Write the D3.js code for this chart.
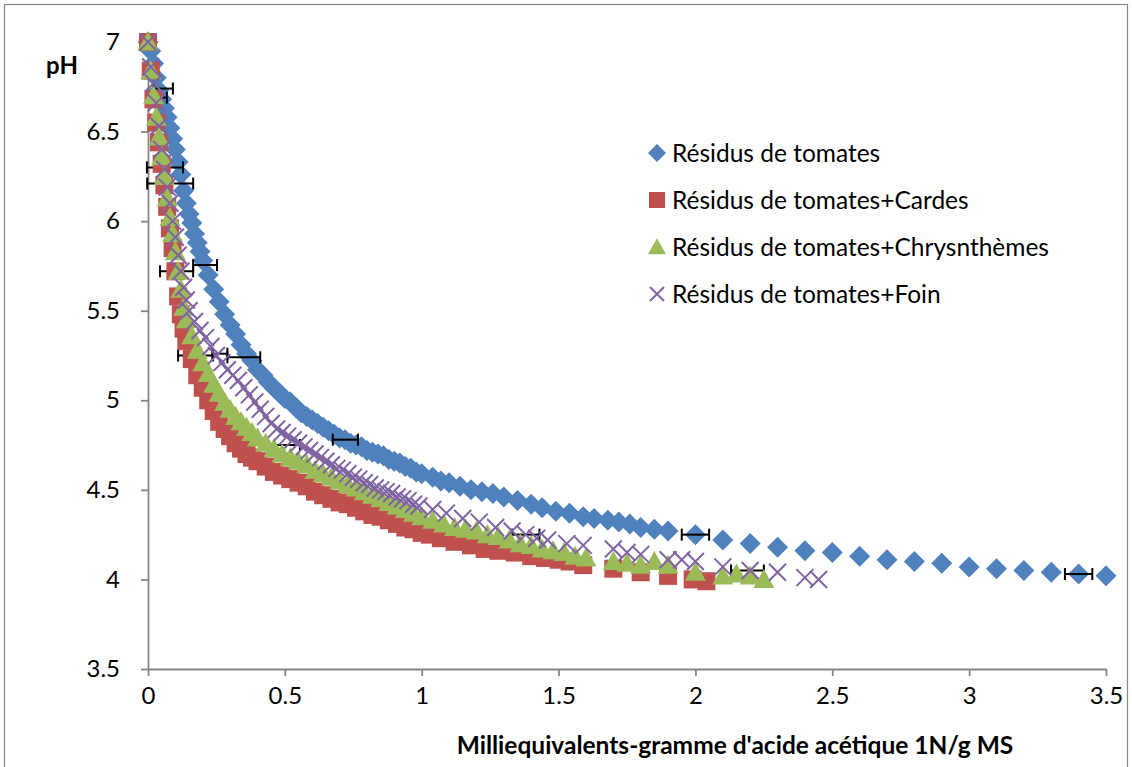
<!DOCTYPE html>
<html><head><meta charset="utf-8">
<script src="https://cdn.jsdelivr.net/npm/d3@7"></script>
<style>
html,body{margin:0;padding:0;background:#fff;}
svg{display:block;font-family:Lato,"Open Sans",sans-serif;}
</style></head>
<body>
<svg id="chart" width="1132" height="767"></svg>
<script>
// ---- Data ----
const seriesNames = ["Résidus de tomates","Résidus de tomates+Cardes","Résidus de tomates+Chrysnthèmes","Résidus de tomates+Foin"];

const tomX  = [0,0.01,0.02,0.03,0.04,0.05,0.06,0.07,0.08,0.09,0.10,0.11,0.12,0.13,0.14,0.15,0.16,0.17,0.18,0.19,0.20,0.22,0.24,0.26,0.28,0.30,0.32,0.34,0.36,0.38,0.40,0.42,0.44,0.46,0.48,0.50,0.52,0.54,0.56,0.58,0.60,0.62,0.64,0.66,0.68,0.70,0.72,0.74,0.76,0.78,0.80,0.82,0.84,0.86,0.88,0.90,0.92,0.94,0.96,0.98,1.00,1.04,1.07,1.10,1.14,1.18,1.22,1.26,1.30,1.35,1.40,1.44,1.49,1.54,1.59,1.63,1.68,1.72,1.76,1.80,1.85,1.90,2.00,2.1,2.2,2.3,2.4,2.5,2.6,2.7,2.8,2.9,3.0,3.1,3.2,3.3,3.4,3.5];
const tomPH = [7.00,6.95,6.88,6.80,6.73,6.68,6.63,6.58,6.52,6.46,6.40,6.33,6.26,6.17,6.10,6.04,5.99,5.93,5.88,5.83,5.78,5.70,5.62,5.55,5.48,5.42,5.37,5.31,5.26,5.22,5.17,5.14,5.10,5.07,5.04,5.01,4.99,4.96,4.93,4.91,4.89,4.87,4.85,4.83,4.81,4.79,4.78,4.76,4.75,4.74,4.72,4.71,4.70,4.69,4.67,4.66,4.65,4.63,4.62,4.60,4.59,4.57,4.55,4.54,4.52,4.50,4.49,4.48,4.46,4.44,4.42,4.40,4.38,4.37,4.35,4.34,4.33,4.32,4.31,4.29,4.28,4.27,4.25,4.22,4.20,4.18,4.16,4.15,4.13,4.11,4.10,4.09,4.07,4.06,4.05,4.04,4.03,4.02];

const carX  = [0,0.01,0.02,0.03,0.04,0.05,0.06,0.07,0.08,0.09,0.10,0.11,0.12,0.13,0.14,0.16,0.18,0.20,0.22,0.24,0.26,0.28,0.30,0.32,0.34,0.36,0.38,0.40,0.43,0.46,0.49,0.52,0.55,0.58,0.61,0.64,0.67,0.70,0.73,0.76,0.79,0.82,0.85,0.88,0.91,0.94,0.97,1.00,1.03,1.07,1.12,1.18,1.23,1.28,1.34,1.40,1.45,1.50,1.54,1.59,1.70,1.80,1.90,1.99,2.04];
const carPH = [7.00,6.84,6.68,6.55,6.44,6.32,6.20,6.08,5.96,5.85,5.72,5.58,5.48,5.40,5.33,5.23,5.14,5.07,5.00,4.94,4.88,4.84,4.80,4.76,4.73,4.70,4.68,4.66,4.63,4.60,4.58,4.56,4.54,4.52,4.49,4.47,4.45,4.43,4.42,4.40,4.38,4.36,4.35,4.33,4.31,4.29,4.28,4.26,4.25,4.23,4.21,4.19,4.17,4.16,4.15,4.13,4.12,4.11,4.10,4.08,4.06,4.04,4.02,4.00,3.99];

const chrX  = [0,0.01,0.02,0.03,0.04,0.05,0.06,0.07,0.08,0.09,0.10,0.11,0.12,0.13,0.14,0.16,0.18,0.20,0.22,0.24,0.26,0.28,0.30,0.32,0.34,0.36,0.38,0.40,0.43,0.46,0.49,0.52,0.55,0.58,0.61,0.64,0.67,0.70,0.73,0.76,0.79,0.82,0.85,0.88,0.91,0.94,0.97,1.00,1.04,1.08,1.12,1.16,1.20,1.24,1.28,1.32,1.36,1.40,1.44,1.48,1.52,1.56,1.60,1.70,1.75,1.80,1.85,1.90,2.00,2.10,2.15,2.20,2.25];
const chrPH = [7.00,6.84,6.70,6.58,6.47,6.36,6.25,6.13,6.02,5.93,5.83,5.72,5.62,5.52,5.45,5.36,5.28,5.21,5.15,5.09,5.04,4.99,4.95,4.91,4.88,4.85,4.82,4.79,4.76,4.73,4.70,4.68,4.66,4.64,4.61,4.59,4.57,4.55,4.53,4.51,4.49,4.47,4.45,4.43,4.41,4.39,4.37,4.35,4.33,4.31,4.29,4.28,4.27,4.25,4.24,4.22,4.20,4.19,4.17,4.16,4.15,4.13,4.12,4.10,4.09,4.08,4.10,4.08,4.04,4.02,4.03,4.02,4.00];

const foinX  = [0,0.01,0.02,0.03,0.04,0.05,0.06,0.07,0.08,0.09,0.10,0.11,0.12,0.13,0.14,0.15,0.17,0.19,0.21,0.23,0.25,0.27,0.29,0.31,0.33,0.35,0.37,0.39,0.41,0.43,0.45,0.47,0.49,0.51,0.53,0.55,0.57,0.59,0.61,0.63,0.65,0.67,0.69,0.71,0.73,0.75,0.77,0.79,0.81,0.83,0.85,0.87,0.89,0.91,0.93,0.95,0.97,0.99,1.04,1.09,1.15,1.21,1.27,1.33,1.38,1.42,1.46,1.53,1.59,1.70,1.75,1.80,1.90,1.95,2.00,2.10,2.20,2.30,2.40,2.45];
const foinPH = [7.00,6.86,6.77,6.66,6.53,6.40,6.29,6.19,6.10,6.00,5.91,5.81,5.72,5.63,5.56,5.50,5.44,5.39,5.35,5.30,5.25,5.21,5.17,5.14,5.11,5.07,5.03,4.99,4.95,4.91,4.87,4.84,4.82,4.80,4.78,4.76,4.74,4.72,4.70,4.68,4.66,4.64,4.62,4.61,4.59,4.57,4.56,4.54,4.53,4.51,4.50,4.49,4.48,4.46,4.45,4.44,4.42,4.41,4.39,4.37,4.34,4.32,4.29,4.27,4.25,4.23,4.22,4.20,4.19,4.17,4.15,4.14,4.11,4.11,4.10,4.07,4.05,4.04,4.01,4.00];

// horizontal error bars: low x, high x, pH
const errLow  = [0.02,0.02,-0.004,-0.003,0.044,0.165,0.110,0.290,0.235,0.325,0.675,1.33,1.95,2.13,3.35];
const errHigh = [0.091,0.069,0.128,0.165,0.165,0.252,0.237,0.410,0.290,0.555,0.767,1.43,2.05,2.25,3.45];
const errPH   = [6.74,6.69,6.30,6.21,5.72,5.755,5.25,5.24,5.26,4.75,4.78,4.25,4.25,4.05,4.03];

const xTicks = [0,0.5,1,1.5,2,2.5,3,3.5];
const yTicks = [3.5,4,4.5,5,5.5,6,6.5,7];

const colors = ["#4F81BD","#C0504D","#9BBB59","#8064A2"];

// ---- Chart ----
const svg = d3.select("#chart");
const x = d3.scaleLinear().domain([0,3.5]).range([148,1106]);
const y = d3.scaleLinear().domain([3.5,7]).range([669,42]);

svg.append("rect").attr("x",4.5).attr("y",4.5).attr("width",1123).attr("height",800)
  .attr("fill","none").attr("stroke","#898989").attr("stroke-width",1.2);

const axisColor = "#868686";
const gx = svg.append("g").attr("transform","translate(0,669)")
  .call(d3.axisBottom(x).tickValues(xTicks).tickSize(7).tickPadding(11).tickFormat(d=>String(d)));
const gy = svg.append("g").attr("transform","translate(148,0)")
  .call(d3.axisLeft(y).tickValues(yTicks).tickSize(7).tickPadding(21).tickFormat(d=>String(d)));
[gx,gy].forEach(g=>{
  g.select(".domain").attr("stroke",axisColor).attr("stroke-width",1.8);
  g.selectAll(".tick line").attr("stroke",axisColor).attr("stroke-width",1.8);
  g.selectAll(".tick text").attr("fill","#000").style("font-size","24px").style("font-family","Lato, sans-serif");
});
gy.select(".domain").attr("d","M0.5,42V669.5");
gx.select(".domain").attr("d","M148,0.5H1106.5");

const plot = svg.append("g");

function diamond(r){return `M0,${-r}L${r},0L0,${r}L${-r},0Z`;}
function tri(w,h){return `M0,${-h*0.55}L${w/2},${h*0.45}L${-w/2},${h*0.45}Z`;}

function zip(xs,ys){return xs.map((v,i)=>({x:v,y:ys[i]}));}

// blue diamonds
plot.append("g").selectAll("path").data(zip(tomX,tomPH)).join("path")
  .attr("d",diamond(10.5)).attr("fill",colors[0])
  .attr("transform",d=>`translate(${x(d.x)},${y(d.y)})`);

// error bars
const eb = plot.append("g").attr("stroke","#000").attr("stroke-width",2);
errPH.forEach((p,i)=>{
  const yy = y(p), x1 = x(errLow[i]), x2 = x(errHigh[i]);
  eb.append("line").attr("x1",x1).attr("x2",x2).attr("y1",yy).attr("y2",yy);
  eb.append("line").attr("x1",x1).attr("x2",x1).attr("y1",yy-6).attr("y2",yy+6);
  eb.append("line").attr("x1",x2).attr("x2",x2).attr("y1",yy-6).attr("y2",yy+6);
});

// red squares
plot.append("g").selectAll("rect").data(zip(carX,carPH)).join("rect")
  .attr("x",d=>x(d.x)-9).attr("y",d=>y(d.y)-9).attr("width",18).attr("height",18)
  .attr("fill",colors[1]);

// green triangles
plot.append("g").selectAll("path").data(zip(chrX,chrPH)).join("path")
  .attr("d",tri(21,19)).attr("fill",colors[2])
  .attr("transform",d=>`translate(${x(d.x)},${y(d.y)})`);

// purple X
plot.append("g").selectAll("path").data(zip(foinX,foinPH)).join("path")
  .attr("d","M-8.5,-8.5L8.5,8.5M-8.5,8.5L8.5,-8.5").attr("stroke",colors[3]).attr("stroke-width",2).attr("fill","none")
  .attr("transform",d=>`translate(${x(d.x)},${y(d.y)})`);

// axis titles
svg.append("text").attr("x",62).attr("y",74).attr("text-anchor","middle")
  .style("font-weight","bold").style("font-size","24px").text("pH");
svg.append("text").attr("x",735).attr("y",754).attr("text-anchor","middle")
  .style("font-weight","bold").style("font-size","24.5px")
  .text("Milliequivalents-gramme d'acide acétique 1N/g MS");

// legend
const legY = [153,200,247,294];
const leg = svg.append("g");
seriesNames.forEach((n,i)=>{
  const cy = legY[i], cx = 657;
  if(i===0) leg.append("path").attr("d",diamond(9)).attr("fill",colors[0]).attr("transform",`translate(${cx},${cy})`);
  if(i===1) leg.append("rect").attr("x",cx-8).attr("y",cy-8).attr("width",16).attr("height",16).attr("fill",colors[1]);
  if(i===2) leg.append("path").attr("d",tri(18,16)).attr("fill",colors[2]).attr("transform",`translate(${cx},${cy})`);
  if(i===3) leg.append("path").attr("d","M-7,-7L7,7M-7,7L7,-7").attr("stroke",colors[3]).attr("stroke-width",2).attr("transform",`translate(${cx},${cy})`);
  leg.append("text").attr("x",672).attr("y",cy).attr("dy","0.36em").style("font-size","24.5px").text(n);
});
</script>
</body></html>
